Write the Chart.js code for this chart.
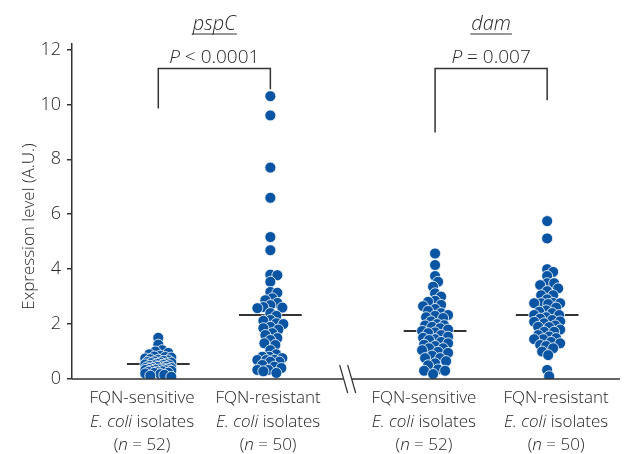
<!DOCTYPE html>
<html>
<head>
<meta charset="utf-8">
<script src="https://cdn.jsdelivr.net/npm/chart.js@4.4.1/dist/chart.umd.min.js"></script>
<style>
  html, body { margin: 0; padding: 0; background: #fff; }
  #wrap { width: 638px; height: 454px; }
</style>
</head>
<body>
<div id="wrap"><canvas id="chart"></canvas></div>
<script>
// ---- data ----
const genes = ['pspC', 'dam'];
const pTexts = [' < 0.0001', ' = 0.007'];
const groupLabels = ['FQN-sensitive', 'FQN-resistant', 'FQN-sensitive', 'FQN-resistant'];
const groupN = [52, 50, 52, 50];
const yTicks = [0, 2, 4, 6, 8, 10, 12];

const pspcSensitive = [1.50, 1.25, 1.05, 1.00, 0.95, 0.90, 0.85, 0.82, 0.80, 0.78,
  0.75, 0.72, 0.70, 0.68, 0.66, 0.64, 0.62, 0.60, 0.60, 0.58,
  0.56, 0.55, 0.53, 0.52, 0.50, 0.50, 0.48, 0.46, 0.45, 0.44,
  0.42, 0.40, 0.40, 0.38, 0.37, 0.36, 0.35, 0.34, 0.33, 0.32,
  0.30, 0.30, 0.28, 0.26, 0.25, 0.23, 0.22, 0.20, 0.18, 0.15, 0.12, 0.08];
const pspcResistant = [10.3, 9.6, 7.7, 6.6, 5.17, 4.69, 3.8, 3.78, 3.54, 3.17,
  3.14, 2.94, 2.87, 2.77, 2.69, 2.62, 2.6, 2.58, 2.4, 2.3,
  2.15, 2.12, 2.03, 2.0, 1.9, 1.85, 1.8, 1.67, 1.6, 1.49,
  1.42, 1.3, 1.24, 1.05, 0.9, 0.81, 0.81, 0.76, 0.7, 0.69,
  0.69, 0.63, 0.63, 0.51, 0.45, 0.4, 0.33, 0.33, 0.28, 0.22];
const damSensitive = [4.57, 4.15, 3.75, 3.54, 3.36, 3.12, 3.0, 2.85, 2.81, 2.7,
  2.65, 2.55, 2.48, 2.4, 2.33, 2.3, 2.25, 2.22, 2.1, 2.0,
  1.96, 1.95, 1.9, 1.85, 1.8, 1.75, 1.7, 1.67, 1.6, 1.54,
  1.5, 1.45, 1.42, 1.35, 1.3, 1.25, 1.2, 1.12, 1.12, 1.05,
  0.99, 0.95, 0.85, 0.76, 0.76, 0.65, 0.57, 0.5, 0.35, 0.3, 0.3, 0.18];
const damResistant = [5.75, 5.12, 4.0, 3.9, 3.75, 3.49, 3.49, 3.42, 3.3, 3.2,
  3.05, 3.05, 2.9, 2.77, 2.76, 2.76, 2.76, 2.73, 2.6, 2.5,
  2.45, 2.4, 2.33, 2.33, 2.25, 2.2, 2.15, 2.1, 2.08, 2.03,
  1.95, 1.9, 1.89, 1.8, 1.72, 1.72, 1.6, 1.55, 1.49, 1.45,
  1.45, 1.35, 1.3, 1.24, 1.2, 1.12, 1.0, 0.87, 0.33, 0.1];
const groupMeans = [0.55, 2.33, 1.75, 2.33];

const groups = [pspcSensitive, pspcResistant, damSensitive, damResistant];

// layout on the x scale (not data)
const groupX = [1, 2, 3.47, 4.47];
const labelX = [0.855, 1.98, 3.37, 4.55];
const breakX = 2.69;
const meanHalf = 0.28;
const bracketTop = 11.31;
const bracketEnds = [[9.85, 10.55], [8.98, 10.15]];

const ink = '#333333';
const dotBlue = '#0a55a3';
const FONT = '"Open Sans", "DejaVu Sans", sans-serif';

function fontStr(size, italic) {
  return (italic ? 'italic ' : '') + '300 ' + size + 'px ' + FONT;
}

// text with italic pieces, centred on cx
function richLine(ctx, parts, cx, y, size) {
  let w = 0;
  parts.forEach(p => { ctx.font = fontStr(size, p[1]); w += ctx.measureText(p[0]).width; });
  let x = cx - w / 2;
  parts.forEach(p => {
    ctx.font = fontStr(size, p[1]);
    ctx.fillText(p[0], x, y);
    x += ctx.measureText(p[0]).width;
  });
  return w;
}

const decorPlugin = {
  id: 'decor',
  afterDraw(chart) {
    const ctx = chart.ctx;
    const xs = chart.scales.x, ys = chart.scales.y;
    const area = chart.chartArea;
    const y0 = ys.getPixelForValue(0);
    const bx = xs.getPixelForValue(breakX);
    ctx.save();
    ctx.strokeStyle = ink;
    ctx.lineWidth = 1.5;
    // baseline with break
    ctx.beginPath();
    ctx.moveTo(area.left, y0); ctx.lineTo(bx - 4, y0);
    ctx.moveTo(bx + 4, y0); ctx.lineTo(area.right, y0);
    ctx.stroke();
    ctx.lineWidth = 1.2;
    ctx.beginPath();
    ctx.moveTo(bx - 8, y0 - 14); ctx.lineTo(bx, y0 + 14);
    ctx.moveTo(bx, y0 - 14); ctx.lineTo(bx + 8, y0 + 14);
    ctx.stroke();

    ctx.fillStyle = '#262626';
    ctx.textBaseline = 'alphabetic';
    ctx.textAlign = 'left';
    // y axis title
    ctx.save();
    ctx.translate(28, (area.top + area.bottom) / 2 + 15);
    ctx.rotate(-Math.PI / 2);
    richLine(ctx, [['Expression level (A.U.)', false]], 0, 6, 17);
    ctx.restore();
    // category labels
    groupLabels.forEach((lab, i) => {
      const cx = xs.getPixelForValue(labelX[i]);
      richLine(ctx, [[lab, false]], cx, y0 + 24, 17);
      richLine(ctx, [['E. coli', true], [' isolates', false]], cx, y0 + 48, 17);
      richLine(ctx, [['(', false], ['n', true], [' = ' + groupN[i] + ')', false]], cx, y0 + 71, 17);
    });
    // gene titles and P values
    genes.forEach((g, i) => {
      const cx = (xs.getPixelForValue(groupX[i * 2]) + xs.getPixelForValue(groupX[i * 2 + 1])) / 2;
      const w = richLine(ctx, [[g, true]], cx, 30, 20);
      ctx.lineWidth = 1;
      ctx.beginPath();
      ctx.moveTo(cx - w / 2 - 1, 34); ctx.lineTo(cx + w / 2 + 1, 34);
      ctx.stroke();
      richLine(ctx, [['P', true], [pTexts[i], false]], cx, 63, 19);
    });
    ctx.restore();
  }
};

const pointSets = groups.map((vals, i) => ({
  type: 'scatter',
  data: vals.map(v => ({ x: groupX[i], y: v })),
  backgroundColor: dotBlue,
  borderColor: '#ffffff',
  borderWidth: 0.8,
  pointRadius: 5.5,
  order: 0
}));

const meanSets = groupMeans.map((m, i) => ({
  type: 'line',
  data: [{ x: groupX[i] - meanHalf, y: m }, { x: groupX[i] + meanHalf, y: m }],
  borderColor: ink,
  borderWidth: 2,
  pointRadius: 0,
  order: 2
}));

const bracketSets = bracketEnds.map((ends, i) => ({
  type: 'line',
  data: [
    { x: groupX[i * 2], y: ends[0] },
    { x: groupX[i * 2], y: bracketTop },
    { x: groupX[i * 2 + 1], y: bracketTop },
    { x: groupX[i * 2 + 1], y: ends[1] }
  ],
  borderColor: ink,
  borderWidth: 1.5,
  pointRadius: 0,
  order: 2
}));

const chart = new Chart(document.getElementById('chart'), {
  type: 'scatter',
  data: { datasets: [...pointSets, ...meanSets, ...bracketSets] },
  options: {
    responsive: true,
    maintainAspectRatio: false,
    animation: false,
    layout: { padding: { top: 44, bottom: 75, right: 18, left: 0 } },
    plugins: { legend: { display: false }, tooltip: { enabled: false } },
    scales: {
      x: { type: 'linear', min: 0.23, max: 5.12, display: false },
      y: {
        min: 0, max: 12.2,
        afterFit(scale) { scale.width = 72; },
        afterBuildTicks(scale) { scale.ticks = yTicks.map(v => ({ value: v })); },
        border: { display: true, color: ink, width: 1.5 },
        grid: { drawOnChartArea: false, drawTicks: true, tickLength: 5, color: ink, lineWidth: 1.5 },
        ticks: { color: '#262626', padding: 6, font: { family: FONT, size: 18, weight: '300' } }
      }
    }
  },
  plugins: [decorPlugin]
});

// beeswarm spread of the points around each group centre
function spread() {
  const xs = chart.scales.x, ys = chart.scales.y;
  const d = 6.5, maxOff = 13;
  groups.forEach((vals, gi) => {
    const cx = xs.getPixelForValue(groupX[gi]);
    const placed = [];
    const pts = vals.map(v => {
      const py = ys.getPixelForValue(v);
      let best = 0, bestScore = -1;
      for (let k = 0; k <= maxOff * 2; k++) {
        const off = k === 0 ? 0 : (k % 2 ? (k + 1) / 2 : -k / 2);
        let md = Infinity;
        placed.forEach(p => {
          const dd = Math.hypot(p.x - (cx + off), p.y - py);
          if (dd < md) md = dd;
        });
        if (md >= d) { best = off; bestScore = md; break; }
        if (md > bestScore) { bestScore = md; best = off; }
      }
      placed.push({ x: cx + best, y: py });
      return { x: xs.getValueForPixel(cx + best), y: v };
    });
    chart.data.datasets[gi].data = pts;
  });
  chart.update('none');
}
spread();
</script>
</body>
</html>
